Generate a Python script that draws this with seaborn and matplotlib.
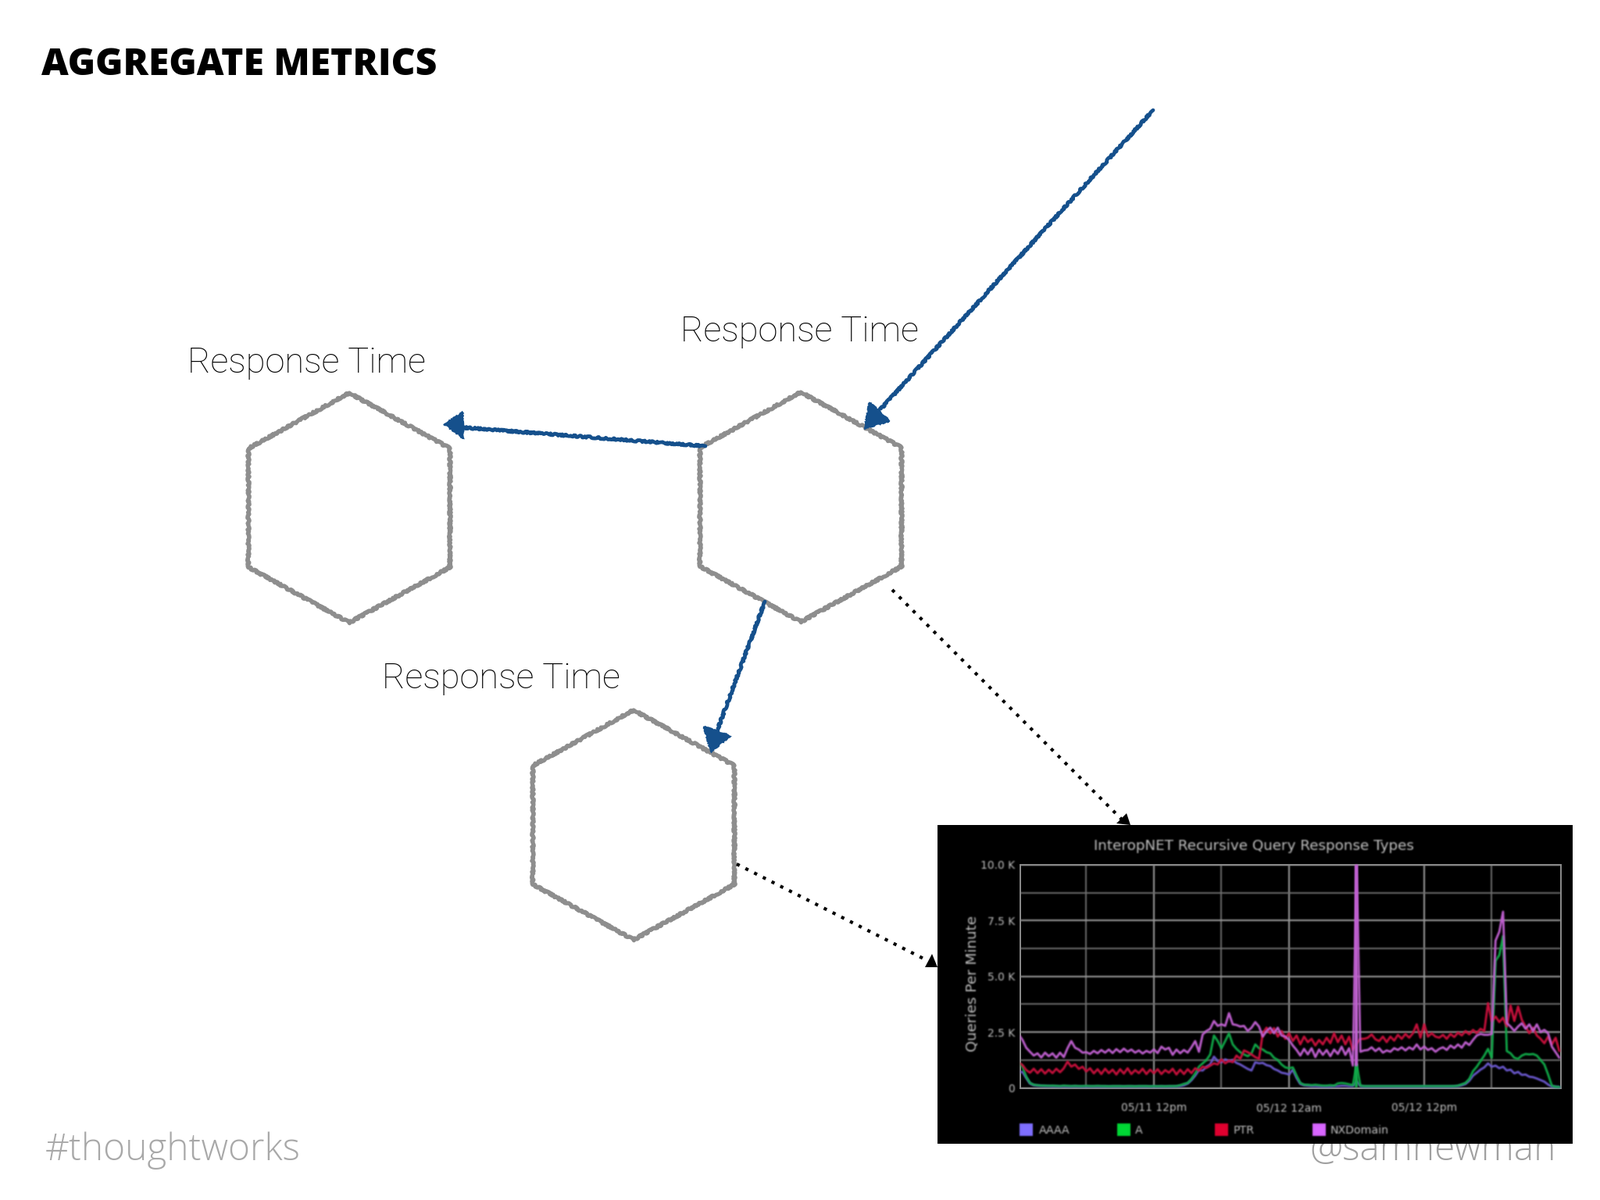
import matplotlib
matplotlib.use("Agg")
import matplotlib.pyplot as plt
from matplotlib.patches import Polygon, Rectangle
import numpy as np
import pandas as pd
import seaborn as sns

# queries per minute in thousands, one reading every 20 minutes, 9 readings a row = 3 hours
aaaa = [
    0.70,0.72,0.45,0.20,0.12,0.10,0.09,0.08,0.08,
    0.07,0.07,0.06,0.07,0.06,0.06,0.07,0.06,0.06,
    0.06,0.06,0.06,0.06,0.06,0.06,0.06,0.06,0.06,
    0.06,0.06,0.06,0.06,0.06,0.06,0.06,0.06,0.06,
    0.06,0.06,0.06,0.06,0.06,0.06,0.07,0.08,0.12,
    0.20,0.35,0.55,0.80,0.78,0.95,1.05,1.40,1.20,
    1.15,1.28,1.20,1.25,1.12,1.05,0.95,0.85,0.78,
    1.15,1.10,1.12,1.02,0.98,0.85,0.78,0.68,0.65,
    0.60,0.82,0.45,0.18,0.12,0.10,0.08,0.08,0.07,
    0.06,0.06,0.06,0.08,0.08,0.10,0.10,0.08,0.08,
    0.30,0.08,0.06,0.06,0.06,0.06,0.06,0.06,0.06,
    0.06,0.06,0.06,0.06,0.06,0.06,0.06,0.06,0.06,
    0.06,0.06,0.06,0.06,0.06,0.06,0.06,0.06,0.07,
    0.08,0.12,0.18,0.32,0.55,0.68,0.82,0.92,1.10,
    0.95,1.00,0.88,0.95,0.78,0.82,0.65,0.72,0.58,
    0.60,0.50,0.48,0.42,0.35,0.28,0.15,0.06,0.05,
    0.04]
a_records = [
    1.15,0.95,0.50,0.22,0.14,0.12,0.10,0.10,0.09,
    0.10,0.09,0.08,0.10,0.09,0.08,0.09,0.08,0.08,
    0.09,0.08,0.08,0.09,0.08,0.08,0.07,0.08,0.08,
    0.08,0.07,0.08,0.08,0.07,0.08,0.08,0.08,0.07,
    0.08,0.07,0.08,0.07,0.08,0.08,0.08,0.12,0.18,
    0.22,0.40,0.65,0.95,1.10,1.25,1.50,2.35,2.10,
    1.78,2.10,2.45,1.95,1.75,1.60,1.50,1.42,1.55,
    1.95,1.78,1.72,1.60,1.55,1.35,1.25,1.05,0.92,
    0.88,0.92,0.55,0.22,0.14,0.14,0.12,0.14,0.12,
    0.10,0.10,0.12,0.10,0.20,0.22,0.20,0.16,0.12,
    1.05,0.10,0.08,0.08,0.08,0.08,0.08,0.08,0.08,
    0.08,0.08,0.08,0.08,0.08,0.08,0.08,0.08,0.08,
    0.08,0.08,0.08,0.08,0.08,0.08,0.08,0.08,0.08,
    0.10,0.16,0.22,0.40,0.75,0.95,1.20,1.45,1.75,
    1.35,5.70,5.95,6.80,1.65,1.55,1.35,1.30,1.45,
    1.52,1.50,1.52,1.45,1.25,1.05,0.60,0.10,0.05,
    0.04]
ptr = [
    1.15,1.02,0.80,0.68,0.86,0.66,0.84,0.64,0.82,
    0.66,0.86,0.70,0.88,1.18,0.95,1.05,0.85,0.95,
    0.74,0.88,0.65,0.84,0.62,0.86,0.66,0.82,0.60,
    0.84,0.64,0.88,0.62,0.80,0.66,0.86,0.62,0.82,
    0.66,0.84,0.62,0.80,0.68,0.86,0.60,0.82,0.62,
    0.84,0.66,0.88,0.78,0.95,0.90,1.00,1.10,1.05,
    1.28,1.10,1.22,1.15,1.45,1.30,1.68,1.60,1.50,
    1.38,1.30,2.45,2.70,2.45,2.68,2.30,2.55,2.20,
    2.45,2.10,2.35,1.95,2.30,2.05,2.20,1.90,2.15,
    1.95,2.25,2.00,2.45,2.05,2.35,1.95,2.30,1.70,
    2.00,2.20,2.20,2.25,2.40,2.18,2.10,2.30,2.05,
    2.30,2.12,2.38,2.20,2.42,2.25,2.45,2.85,2.25,
    2.85,2.30,2.45,2.30,2.25,2.38,2.20,2.42,2.28,
    2.48,2.35,2.55,2.40,2.60,2.45,2.65,2.55,3.80,
    3.00,3.20,2.95,3.15,2.75,3.70,3.00,3.65,3.05,
    2.75,2.45,2.70,2.35,2.20,2.00,2.30,1.95,2.25,
    1.65]
nxdomain = [
    2.40,2.15,1.80,1.62,1.45,1.55,1.36,1.58,1.42,
    1.55,1.35,1.58,1.38,1.78,2.10,1.80,1.72,1.58,
    1.60,1.52,1.66,1.55,1.70,1.58,1.72,1.56,1.74,
    1.60,1.76,1.62,1.72,1.58,1.68,1.54,1.66,1.58,
    1.72,1.56,1.85,1.72,1.80,1.48,1.72,1.55,1.70,
    1.58,1.82,2.10,1.62,2.40,2.55,2.65,3.00,2.78,
    2.85,2.78,3.35,2.85,2.82,2.75,2.78,2.55,2.70,
    2.95,2.75,2.30,2.55,2.70,2.45,2.70,2.35,2.30,
    2.15,1.90,1.70,1.45,1.75,1.50,1.78,1.38,1.72,
    1.48,1.70,1.42,1.72,1.52,1.85,1.48,1.78,1.00,
    10.0,1.62,1.68,1.70,1.82,1.65,1.78,1.58,1.68,
    1.62,1.78,1.70,1.82,1.68,1.82,1.72,1.95,1.72,
    1.85,1.70,1.78,1.62,1.75,1.82,1.70,1.90,1.78,
    1.95,1.80,2.05,1.92,2.15,2.35,2.42,2.38,2.38,
    2.42,6.60,7.00,7.90,2.90,2.75,2.55,2.75,2.90,
    2.65,2.85,2.55,2.85,2.50,2.60,2.45,1.85,1.60,
    1.35]
series_names = ["AAAA", "A", "PTR", "NXDomain"]
line_colors = ["#6a58cc", "#10a848", "#c8103c", "#c060d0"]
swatch_colors = ["#7f6fff", "#00d835", "#e00030", "#d966ff"]
# the outage at hour 30 is a solid band in the graph, not a thin peak
outage_hour = 29.98
outage_a = [0.08, 1.05]
outage_nxdomain = [1.05, 10.0]
y_major = [0, 2.5, 5, 7.5, 10]
y_labels = ["0", "2.5 K", "5.0 K", "7.5 K", "10.0 K"]
y_minor = [1.25, 3.75, 6.25, 8.75]
x_major = [12, 24, 36]
x_labels = ["05/11 12pm", "05/12 12am", "05/12 12pm"]
x_minor = [6, 18, 30, 42]

W, H = 2048, 1536


def soften(image, dpi, sigma=0.9):
    # the panel is a blurry screenshot in the slide, so blur its artists a little
    pad = 4
    img = np.pad(image, ((pad, pad), (pad, pad), (0, 0)))
    alpha = img[..., 3:]
    layers = np.concatenate([img[..., :3] * alpha, alpha], axis=2)
    kernel = np.exp(-0.5 * (np.arange(-pad, pad + 1) / sigma) ** 2)
    kernel /= kernel.sum()
    for axis in (0, 1):
        layers = np.apply_along_axis(lambda m: np.convolve(m, kernel, mode="same"), axis, layers)
    a = np.clip(layers[..., 3:], 1e-6, 1)
    out = np.concatenate([np.clip(layers[..., :3] / a, 0, 1), a], axis=2)
    return out, -pad, -pad


sns.set_theme(style="white", rc={"font.family": "DejaVu Sans"})
fig = plt.figure(figsize=(W / 100, H / 100), dpi=100, facecolor="white")

# whole slide in pixel coordinates
slide = fig.add_axes([0, 0, 1, 1], zorder=0)
slide.set_xlim(0, W)
slide.set_ylim(H, 0)
slide.axis("off")

slide.text(53, 96, "AGGREGATE METRICS", family="Open Sans", weight=800, fontsize=34.5, color="black", va="baseline")
for x, y in [(240, 477), (871, 437), (489, 881)]:
    slide.text(x, y, "Response Time", family="Roboto", weight="light", fontsize=32.6, color="black", va="baseline")
slide.text(58, 1485, "#thoughtworks", family="Open Sans", weight="light", fontsize=34.4, color="#a8a8a8", va="baseline")
slide.text(1676, 1485, "@samnewman", family="Open Sans", weight="light", fontsize=34.4, color="#a0a0a0", va="baseline")


def hexagon(cx, cy):
    xs = [cx, cx + 129, cx + 129, cx, cx - 129, cx - 129]
    ys = [cy - 147, cy - 76, cy + 76, cy + 147, cy + 76, cy - 76]
    return list(zip(xs, ys))


for cx, cy in [(447, 650), (1025, 649), (811, 1056)]:
    hex_patch = Polygon(hexagon(cx, cy), closed=True, fill=False, edgecolor="#8e8e8e", lw=3.8, joinstyle="round")
    hex_patch.set_sketch_params(scale=1.2, length=5, randomness=12)
    slide.add_patch(hex_patch)

blue = "#15508c"
blue_arrows = [
    ((1476, 141), (1127, 524), [(1107, 548), (1113, 515), (1139, 539)]),
    ((903, 571), (590, 547), [(569, 543), (592, 528), (593, 561)]),
    ((979, 770), (918, 935), [(910, 962), (901, 930), (935, 942)]),
]
for start, end, head in blue_arrows:
    arrow_line, = slide.plot([start[0], end[0]], [start[1], end[1]], color=blue, lw=3.4)
    arrow_line.set_sketch_params(scale=1.1, length=5, randomness=12)
    arrow_head = Polygon(head, closed=True, facecolor=blue, edgecolor=blue, lw=1.5)
    arrow_head.set_sketch_params(scale=0.8, length=5, randomness=12)
    slide.add_patch(arrow_head)

dotted_arrows = [
    ((1142, 755), (1436, 1049), [(1442, 1041), (1429, 1054), (1447, 1056)]),
    ((943, 1106), (1186, 1229), [(1193, 1221), (1184, 1238), (1200, 1238)]),
]
for start, end, head in dotted_arrows:
    slide.plot([start[0], end[0]], [start[1], end[1]], color="black", lw=3.0, linestyle=(0, (1, 2)), dash_capstyle="butt")
    slide.add_patch(Polygon(head, closed=True, facecolor="black", edgecolor="none", zorder=3))

# black screenshot panel, covers the bottom of the twitter handle
slide.add_patch(Rectangle((1200, 1056), 813, 408, facecolor="black", edgecolor="none", zorder=3))

label_grey = "#c4c4c4"
panel_texts = [
    slide.text(1605, 1083, "InteropNET Recursive Query Response Types", color=label_grey, fontsize=13.2, ha="center", va="center", zorder=4),
    slide.text(1245, 1259, "Queries Per Minute", color=label_grey, fontsize=13.2, rotation=90, ha="center", va="center", zorder=4),
]
for name, color, sx, tx in zip(series_names, swatch_colors, [1305, 1430, 1555, 1680], [1330, 1453, 1579, 1703]):
    swatch = Rectangle((sx, 1438), 17, 16, facecolor=color, edgecolor="none", zorder=4)
    slide.add_patch(swatch)
    swatch.set_agg_filter(soften)
    panel_texts.append(slide.text(tx, 1447, name, color=label_grey, fontsize=10.2, va="center", zorder=4))

# rrd graph inside the panel
ax = fig.add_axes([1306 / W, 1 - 1392.5 / H, 692 / W, 285.5 / H], zorder=1)
ax.set_facecolor("black")
hours = np.arange(145) / 3
df = pd.DataFrame({"hours": hours, "AAAA": aaaa, "A": a_records, "PTR": ptr, "NXDomain": nxdomain})
long_df = df.melt(id_vars="hours", value_vars=series_names, var_name="type", value_name="kqpm")
sns.lineplot(data=long_df, x="hours", y="kqpm", hue="type", hue_order=series_names, palette=line_colors,
             estimator=None, sort=False, legend=False, linewidth=2.0, ax=ax, zorder=5)
sns.lineplot(x=[outage_hour, outage_hour], y=outage_a, color=line_colors[1], linewidth=3.0,
             estimator=None, sort=False, ax=ax, zorder=6)
sns.lineplot(x=[outage_hour, outage_hour], y=outage_nxdomain, color=line_colors[3], linewidth=3.0,
             estimator=None, sort=False, ax=ax, zorder=6)

ax.set_xlim(0.14, 48.14)
ax.set_ylim(0, 10)
ax.set_xlabel("")
ax.set_ylabel("")
ax.set_xticks(x_major)
ax.set_xticklabels(x_labels)
ax.set_xticks(x_minor, minor=True)
ax.set_yticks(y_major)
ax.set_yticklabels(y_labels)
ax.set_yticks(y_minor, minor=True)
ax.grid(which="major", color="#989898", lw=1.5, zorder=1)
ax.grid(which="minor", color="#6e6e6e", lw=1.4, zorder=1)
ax.set_axisbelow(True)
ax.tick_params(which="both", length=0, colors=label_grey, labelsize=10)
ax.tick_params(axis="x", pad=13.5)
ax.tick_params(axis="y", pad=5)
for spine in ax.spines.values():
    spine.set_color("#8c8c8c")
    spine.set_linewidth(1.4)

for line in ax.get_lines():
    line.set_agg_filter(soften)
for axis in (ax.xaxis, ax.yaxis):
    for tick in axis.get_major_ticks() + axis.get_minor_ticks():
        tick.gridline.set_agg_filter(soften)
for text in panel_texts + ax.get_xticklabels() + ax.get_yticklabels():
    text.set_agg_filter(soften)

fig.savefig("out.png", dpi=100, facecolor="white")
